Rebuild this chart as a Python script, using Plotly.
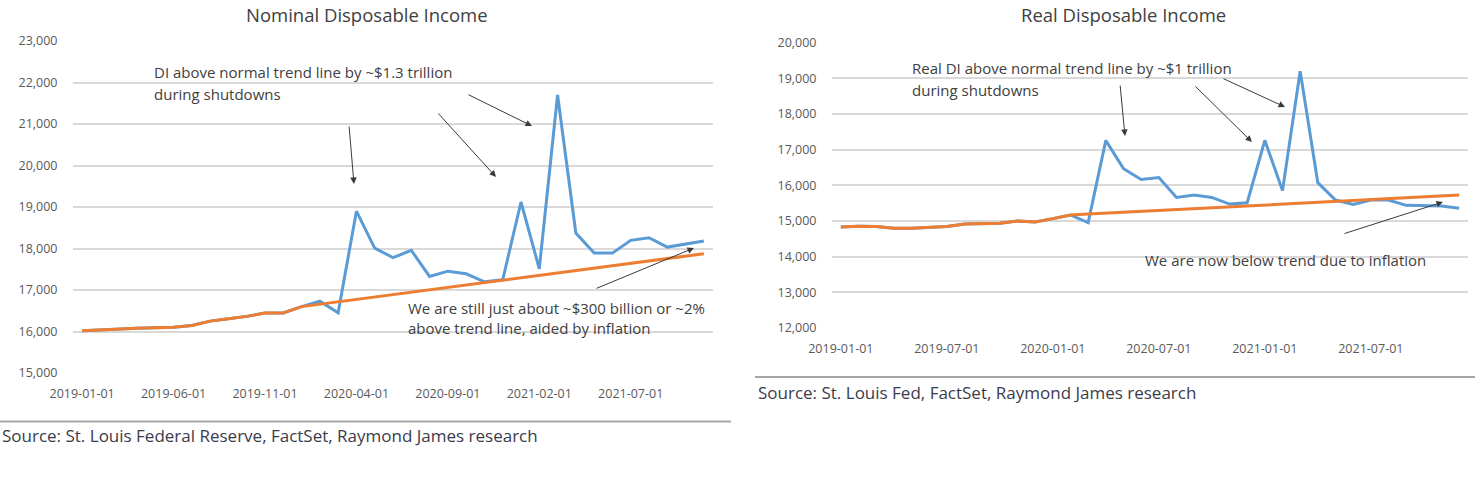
import plotly.graph_objects as go
import pandas as pd

W, H = 1475, 493

# ---------------- data ----------------
nominal_months = [d.strftime("%Y-%m-%d") for d in pd.date_range("2019-01-01", "2021-11-01", freq="MS")]
real_months = [d.strftime("%Y-%m-%d") for d in pd.date_range("2019-01-01", "2021-12-01", freq="MS")]

nominal_di = [16017, 16041, 16073, 16080, 16090, 16105, 16146, 16250, 16308, 16364, 16445, 16445,
              16600, 16730, 16449, 18900, 18010, 17780, 17955, 17326, 17454, 17390, 17198, 17246,
              19120, 17512, 21698, 18372, 17889, 17889, 18196, 18260, 18034, 18099, 18180]
nominal_trend = [16017, 16041, 16073, 16080, 16090, 16105, 16146, 16250, 16308, 16364, 16445, 16445,
                 16600, 16658, 16716, 16774, 16832, 16890, 16948, 17006, 17064, 17122, 17180, 17238,
                 17296, 17354, 17412, 17470, 17528, 17586, 17644, 17702, 17760, 17818, 17876]

real_di = [14833, 14852, 14843, 14797, 14797, 14824, 14843, 14917, 14935, 14935, 15000, 14972,
           15064, 15167, 14953, 17256, 16465, 16160, 16216, 15659, 15724, 15659, 15473, 15510,
           17258, 15850, 19195, 16072, 15585, 15465, 15585, 15585, 15437, 15418, 15418, 15354]
real_trend = [14833, 14852, 14843, 14797, 14797, 14824, 14843, 14917, 14935, 14935, 15000, 14972,
              15064, 15167, 15192, 15218, 15243, 15268, 15294, 15319, 15344, 15369, 15395, 15420,
              15445, 15471, 15496, 15521, 15547, 15572, 15597, 15622, 15648, 15673, 15698, 15724]

nominal_ticks = ["2019-01-01", "2019-06-01", "2019-11-01", "2020-04-01", "2020-09-01", "2021-02-01", "2021-07-01"]
real_ticks = ["2019-01-01", "2019-07-01", "2020-01-01", "2020-07-01", "2021-01-01", "2021-07-01"]
nominal_yticks = [15000, 16000, 17000, 18000, 19000, 20000, 21000, 22000, 23000]
real_yticks = [12000, 13000, 14000, 15000, 16000, 17000, 18000, 19000, 20000]

BLUE = "#5B9BD5"
ORANGE = "#ED7D31"
GRID = "#D9D9D9"
TICK = "#595959"
TXT = "#404040"
FONT = "Open Sans"


def px(x, y):
    return x / W, 1 - y / H


fig = go.Figure()
fig.add_trace(go.Scatter(x=nominal_months, y=nominal_di, mode="lines", line=dict(color=BLUE, width=3),
                         xaxis="x", yaxis="y", showlegend=False))
fig.add_trace(go.Scatter(x=nominal_months, y=nominal_trend, mode="lines", line=dict(color=ORANGE, width=3),
                         xaxis="x", yaxis="y", showlegend=False))
fig.add_trace(go.Scatter(x=real_months, y=real_di, mode="lines", line=dict(color=BLUE, width=3),
                         xaxis="x2", yaxis="y2", showlegend=False))
fig.add_trace(go.Scatter(x=real_months, y=real_trend, mode="lines", line=dict(color=ORANGE, width=3),
                         xaxis="x2", yaxis="y2", showlegend=False))

tickfont = dict(family=FONT, size=12.5, color=TICK)
common_x = dict(type="category", showgrid=False, zeroline=False, showline=False, automargin=False,
                ticks="outside", ticklen=9, tickcolor="rgba(0,0,0,0)", tickfont=tickfont, fixedrange=True)
common_y = dict(showgrid=True, gridcolor=GRID, gridwidth=1.5, zeroline=False, showline=False, automargin=False,
                ticks="outside", ticklen=12, tickcolor="rgba(0,0,0,0)", tickfont=tickfont,
                tickformat=",d", fixedrange=True)

x0, _ = px(73, 0)
x1, _ = px(713, 0)
_, yt = px(0, 41)
_, yb = px(0, 373)
x20, _ = px(832, 0)
x21, _ = px(1468, 0)
_, y2t = px(0, 42.5)
_, y2b = px(0, 328)

fig.update_layout(
    width=W, height=H, margin=dict(l=0, r=0, t=0, b=0, autoexpand=False),
    paper_bgcolor="white", plot_bgcolor="white",
    xaxis=dict(common_x, domain=[x0, x1], anchor="y", range=[-0.5, len(nominal_months) - 0.5],
               tickvals=nominal_ticks, ticktext=nominal_ticks),
    yaxis=dict(common_y, domain=[yb, yt], anchor="x", range=[15000, 23000], tickvals=nominal_yticks),
    xaxis2=dict(common_x, domain=[x20, x21], anchor="y2", range=[-0.5, len(real_months) - 0.5],
                tickvals=real_ticks, ticktext=real_ticks),
    yaxis2=dict(common_y, domain=[y2b, y2t], anchor="x2", range=[12000, 20000], tickvals=real_yticks),
)

annotations = []


def text(x, y, s, size=13, color=TXT, xanchor="left", yanchor="middle"):
    ax, ay = px(x, y)
    annotations.append(dict(x=ax, y=ay, xref="paper", yref="paper", text=s, showarrow=False,
                            xanchor=xanchor, yanchor=yanchor, align="left",
                            font=dict(family=FONT, size=size, color=color)))


def arrow(tail, tip):
    tx, ty = px(*tip)
    annotations.append(dict(x=tx, y=ty, xref="paper", yref="paper", text="", showarrow=True,
                            ax=tail[0] - tip[0], ay=tail[1] - tip[1], axref="pixel", ayref="pixel",
                            arrowhead=2, arrowsize=1.3, arrowwidth=1, arrowcolor="#3a3a3a"))


# titles
text(366.5, 0, "Nominal Disposable Income", size=18.5, color="#404040", xanchor="center", yanchor="top")
text(1123, 0, "Real Disposable Income", size=18.5, color="#404040", xanchor="center", yanchor="top")

# left annotations
text(152, 72, "DI above normal trend line by ~$1.3 trillion", size=15)
text(152, 94, "during shutdowns", size=15)
text(406, 308, "We are still just about ~$300 billion or ~2%", size=15)
text(406, 328, "above trend line, aided by inflation", size=15)
arrow((349, 125), (354, 184))
arrow((437, 112), (496, 177))
arrow((467, 94), (532, 126))
arrow((595, 289), (694, 248))

# right annotations
text(910, 68, "Real DI above normal trend line by ~$1 trillion", size=15)
text(910, 90, "during shutdowns", size=15)
text(1143, 260, "We are now below trend due to inflation", size=15)
arrow((1120, 84), (1125, 136))
arrow((1194, 85), (1252, 142))
arrow((1222, 78), (1285, 107))
arrow((1343, 234), (1443, 202))

# sources
text(0, 435, "Source: St. Louis Federal Reserve, FactSet, Raymond James research", size=17, color="#3b3b4b")
text(756, 392, "Source: St. Louis Fed, FactSet, Raymond James research", size=17, color="#3b3b4b")

fig.update_layout(annotations=annotations)

# separator lines
sx0, sy = px(0, 421.5)
sx1, _ = px(731, 0)
fig.add_shape(type="line", xref="paper", yref="paper", x0=sx0, x1=sx1, y0=sy, y1=sy,
              line=dict(color="#A6A6A6", width=2))
rx0, ry = px(755, 377)
rx1, _ = px(1475, 0)
fig.add_shape(type="line", xref="paper", yref="paper", x0=rx0, x1=rx1, y0=ry, y1=ry,
              line=dict(color="#A6A6A6", width=2))

fig.write_html("out.html", config={"displayModeBar": False},
               post_script="document.body.style.margin='0';document.body.style.overflow='hidden';")
